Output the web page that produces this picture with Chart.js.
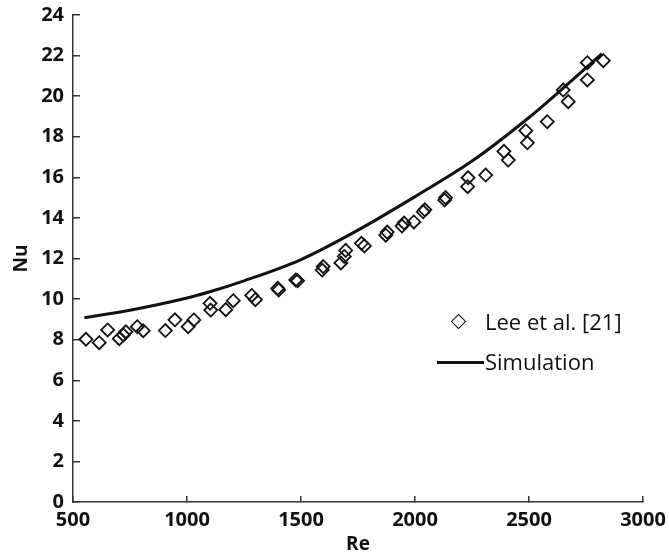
<!DOCTYPE html>
<html>
<head>
<meta charset="utf-8">
<script src="https://cdn.jsdelivr.net/npm/chart.js@4.4.1/dist/chart.umd.min.js"></script>
<style>
  body { margin: 0; background: #fff; }
  #wrap { position: relative; width: 669px; height: 556px; }
  .leg { position: absolute; font-family: "Open Sans", Lato, sans-serif; font-size: 22px; color: #111; line-height: 22px; }
  .diamond { position: absolute; width: 9px; height: 9px; border: 1.8px solid #111; transform: rotate(45deg); background: #fff; }
  .lline { position: absolute; height: 3px; background: #111; }
</style>
</head>
<body>
<div id="wrap">
  <canvas id="chart" width="669" height="556"></canvas>
  <div class="diamond" style="left:453px; top:316px;"></div>
  <div class="leg" style="left:485px; top:310px;">Lee et al. [21]</div>
  <div class="lline" style="left:437px; top:361px; width:47px;"></div>
  <div class="leg" style="left:485px; top:350px;">Simulation</div>
</div>
<script>
// Experimental data (Re, Nu)
const expRe = [557, 615, 652, 703, 721, 732, 782, 808, 905, 947, 1005, 1030, 1101, 1104, 1170, 1203,
  1284, 1300, 1398, 1402, 1477, 1485, 1593, 1597, 1675, 1690, 1696, 1765, 1778, 1872, 1878, 1943,
  1952, 1995, 2036, 2043, 2130, 2134, 2231, 2233, 2310, 2390, 2409, 2486, 2493, 2580, 2650, 2672,
  2756, 2756, 2826];
const expNu = [8.02, 7.85, 8.48, 8.05, 8.23, 8.39, 8.64, 8.44, 8.45, 8.98, 8.64, 8.97, 9.79, 9.46, 9.48, 9.92,
  10.18, 9.97, 10.53, 10.45, 10.94, 10.9, 11.43, 11.6, 11.78, 12.1, 12.4, 12.75, 12.62, 13.15, 13.3, 13.6,
  13.75, 13.8, 14.3, 14.4, 14.88, 15.0, 15.54, 15.98, 16.11, 17.28, 16.85, 18.3, 17.7, 18.74, 20.3, 19.73,
  21.65, 20.8, 21.75];

// Simulation curve
const simRe = [550, 750, 1000, 1100, 1250, 1500, 1750, 2000, 2250, 2500, 2650, 2820];
const simNu = [9.08, 9.45, 10.05, 10.36, 10.9, 11.95, 13.4, 15.05, 16.8, 18.95, 20.4, 22.1];

const fontFam = "'Open Sans', Lato, sans-serif";

new Chart(document.getElementById("chart"), {
  type: "scatter",
  data: {
    datasets: [
      {
        label: "Lee et al. [21]",
        data: expRe.map((x, i) => ({ x, y: expNu[i] })),
        pointStyle: "rectRot",
        pointRadius: 6.5,
        pointBorderWidth: 1.8,
        pointBorderColor: "#111",
        pointBackgroundColor: "rgba(255,255,255,0)",
        showLine: false
      },
      {
        label: "Simulation",
        data: simRe.map((x, i) => ({ x, y: simNu[i] })),
        showLine: true,
        borderColor: "#111",
        borderWidth: 3,
        pointRadius: 0,
        cubicInterpolationMode: "monotone"
      }
    ]
  },
  options: {
    responsive: false,
    devicePixelRatio: 1,
    animation: false,
    layout: { padding: { top: 15, right: 26, left: 0, bottom: 0 } },
    plugins: { legend: { display: false }, tooltip: { enabled: false } },
    scales: {
      x: {
        type: "linear",
        min: 500, max: 3000,
        ticks: { stepSize: 500, color: "#111", padding: 12, maxRotation: 0,
          callback: v => String(v),
          font: { family: fontFam, size: 20, weight: "bold" } },
        grid: { drawOnChartArea: false, drawTicks: true, tickLength: -6, color: "#333", lineWidth: 1.5 },
        border: { display: true, color: "#333", width: 1.5 },
        title: { display: true, text: "Re", color: "#111", padding: { top: 0, bottom: 0 },
          font: { family: fontFam, size: 19, weight: "bold" } },
        afterFit: s => { s.height = 54; s.paddingLeft = 0; s.paddingRight = 0; }
      },
      y: {
        min: 0, max: 24,
        ticks: { stepSize: 2, color: "#111", padding: 16,
          callback: v => String(v),
          font: { family: fontFam, size: 20, weight: "bold" } },
        grid: { drawOnChartArea: false, drawTicks: true, tickLength: -7, color: "#333", lineWidth: 1.5 },
        border: { display: true, color: "#333", width: 1.5 },
        title: { display: true, text: "Nu", color: "#111", padding: { top: 10, bottom: 0 },
          font: { family: fontFam, size: 19, weight: "bold" } },
        afterFit: s => { s.width = 73; s.paddingTop = 0; s.paddingBottom = 0; }
      }
    }
  }
});
</script>
</body>
</html>
